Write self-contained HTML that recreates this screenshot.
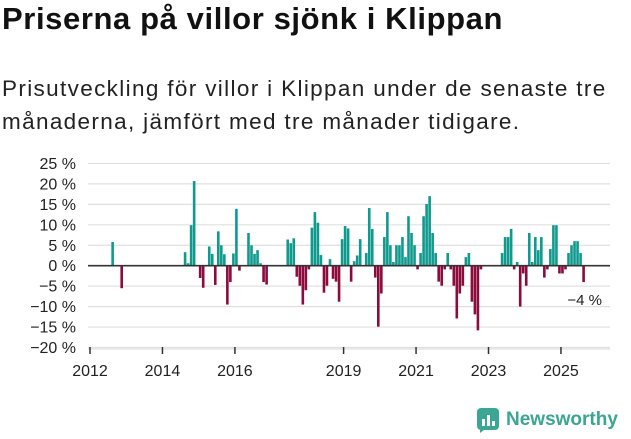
<!DOCTYPE html>
<html><head><meta charset="utf-8"><style>
body{margin:0;background:#fff;width:631px;height:439px;overflow:hidden;font-family:"Liberation Sans",sans-serif;color:#111}
h1{position:absolute;left:2px;top:1px;margin:0;font-size:31px;font-weight:bold;letter-spacing:0.6px}
p{position:absolute;left:2px;top:72px;margin:0;font-size:22.5px;letter-spacing:1.35px;line-height:33px;color:#222;width:622px}
svg{position:absolute;left:0;top:0}
</style></head><body>
<h1>Priserna på villor sjönk i Klippan</h1>
<p>Prisutveckling för villor i Klippan under de senaste tre månaderna, jämfört med tre månader tidigare.</p>
<svg id="c" width="631" height="439"></svg>
<script>
const monthIndex=[7,10,31,32,33,34,36,37,39,40,41,42,43,44,45,46,47,48,49,52,53,54,55,56,57,58,65,66,67,68,69,70,71,72,73,74,75,76,77,78,79,80,81,82,83,84,85,86,87,88,89,91,92,93,94,95,96,97,98,99,100,101,102,103,104,105,106,107,108,109,110,111,112,113,114,115,116,117,118,119,120,121,122,123,124,125,126,127,128,129,136,137,138,139,140,141,142,143,144,145,146,147,148,149,150,151,152,153,154,155,156,157,158,159,160,161,162,163];
const changeValues=[5.8,-5.5,3.3,0.6,9.9,20.7,-3,-5.4,4.7,2.9,-4.7,8.4,5,2.8,-9.5,-4,3,13.9,-1.2,8,5,2.9,3.8,0.6,-4,-4.6,6.4,5.5,6.7,-2.7,-4.9,-9.5,-6,-0.9,9.3,13.1,10.5,2.6,-6.6,-4.9,1.6,-3.2,-3.9,-8.8,6.5,9.7,9.1,-3.9,1.1,2.5,6.5,3.1,14.1,9,-2.9,-14.9,-6.8,7,13.1,5,0.9,5,5,7,2.1,12.1,8,5,-0.9,3.1,12.1,15.1,17,8,3.1,-3.9,-4.9,-0.9,3.1,-0.9,-4.9,-12.9,-6.8,-4.9,2.1,3.1,-8.8,-11.9,-15.8,-0.9,3.1,7,7,9,-0.9,0.9,-10,-1.9,-4.9,8,0.9,7,3.8,7,-2.9,-0.9,4.1,9.9,9.9,-1.9,-1.9,-0.9,3.1,5,6,6,3.1,-4];
const yTicks=[25,20,15,10,5,0,-5,-10,-15,-20];
const xTickYears=[2012,2014,2016,2019,2021,2023,2025];
const lastLabel="−4 %";
const svg=document.getElementById('c');const NS='http://www.w3.org/2000/svg';
const x0=90,mw=3.019,yZero=265.7,ppu=4.09;
const xs=i=>x0+i*mw;const ys=v=>yZero-v*ppu;
function mk(t,a){const e=document.createElementNS(NS,t);for(const k in a)e.setAttribute(k,a[k]);svg.appendChild(e);return e;}
yTicks.forEach(v=>{
 if(v!==0){const g=mk('line',{x1:88,x2:610,y1:ys(v),y2:ys(v),stroke:'#e0e0e0','stroke-width':1.2});
 
 }
 const t=mk('text',{x:76,y:ys(v)+5.5,'text-anchor':'end','font-size':16,fill:'#222'});
 t.textContent=(v<0?'−'+(-v):v)+' %';
 
 
});
monthIndex.forEach((m,i)=>{const v=changeValues[i];
 const r=mk('rect',{x:xs(m)+0.2,width:2.6,y:Math.min(ys(v),yZero),height:Math.abs(ys(v)-yZero),fill:v>=0?'#0f9a8e':'#8c0a3c'});
 
 
});
const z=mk('line',{x1:88,x2:610,y1:yZero,y2:yZero,stroke:'#333','stroke-width':1.6});


const ax=mk('line',{x1:88,x2:610,y1:349,y2:349,stroke:'#e0e0e0','stroke-width':1.2});


xTickYears.forEach(yr=>{const x=xs((yr-2012)*12);
 const l=mk('line',{x1:x,x2:x,y1:347,y2:354,stroke:'#333','stroke-width':1.5});
 
 
 const t=mk('text',{x:x,y:376,'text-anchor':'middle','font-size':16,fill:'#222'});t.textContent=yr;
 
 
});
const ll=mk('text',{x:602,y:305,'text-anchor':'end','font-size':15,fill:'#222'});ll.textContent=lastLabel;


</script>
<div style="position:absolute;left:476px;top:407px;display:flex;align-items:center">
<svg width="24" height="26" style="position:static"><rect x="1" y="1" width="22" height="22" rx="4" fill="#3aa693"/><rect x="6" y="12" width="3" height="7" fill="#fff"/><rect x="11" y="8" width="3" height="11" fill="#fff"/><rect x="16" y="14" width="3" height="5" fill="#fff"/><path d="M4 23 L4 26 L8 23Z" fill="#3aa693"/></svg>
<span style="margin-left:6px;font-size:19px;font-weight:bold;color:#3aa693">Newsworthy</span></div>
</body></html>
